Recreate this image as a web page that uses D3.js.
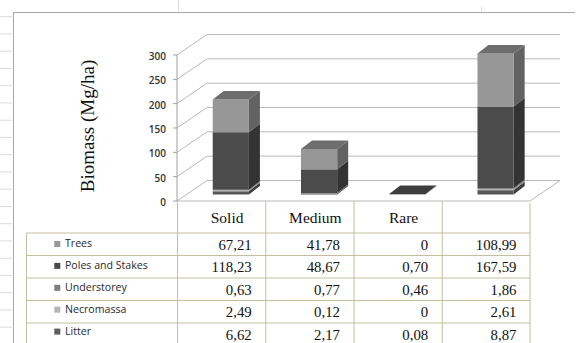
<!DOCTYPE html>
<html>
<head>
<meta charset="utf-8">
<script src="https://cdn.jsdelivr.net/npm/d3@7"></script>
<style>
  html, body { margin: 0; padding: 0; background: #fff; }
  svg { display: block; }
</style>
</head>
<body>
<svg id="chart" width="576" height="343"></svg>
<script>
// Biomass by stand density (Mg/ha)
const categories = ["Solid", "Medium", "Rare", ""];
const seriesNames = ["Trees", "Poles and Stakes", "Understorey", "Necromassa", "Litter"];
const trees       = [67.21, 41.78, 0, 108.99];
const poles       = [118.23, 48.67, 0.70, 167.59];
const understorey = [0.63, 0.77, 0.46, 1.86];
const necromassa  = [2.49, 0.12, 0, 2.61];
const litter      = [6.62, 2.17, 0.08, 8.87];
const yTicks      = [0, 50, 100, 150, 200, 250, 300];
const yTitle      = "Biomass (Mg/ha)";

const seriesValues = [trees, poles, understorey, necromassa, litter];

// shading per series: front face, side face, top face, legend swatch
const shades = {
  "Trees":            { front: "#979797", side: "#626262", top: "#6d6d6d", key: "#989898" },
  "Poles and Stakes": { front: "#4b4b4b", side: "#333333", top: "#3d3d3d", key: "#4a4a4a" },
  "Understorey":      { front: "#7d7d7d", side: "#585858", top: "#606060", key: "#7e7e7e" },
  "Necromassa":       { front: "#b4b4b4", side: "#8a8a8a", top: "#909090", key: "#b6b6b6" },
  "Litter":           { front: "#575757", side: "#3c3c3c", top: "#454545", key: "#5e5e5e" }
};

const svg = d3.select("#chart");

// rows for stacking, one per category
const rows = categories.map((c, i) => {
  const r = { cat: c };
  seriesNames.forEach((s, j) => { r[s] = seriesValues[j][i]; });
  return r;
});
// bottom-up stacking order
const stackKeys = ["Litter", "Necromassa", "Understorey", "Poles and Stakes", "Trees"];
const stacked = d3.stack().keys(stackKeys)(rows);

const x = d3.scaleBand().domain(categories).range([177, 530]);
const y = d3.scaleLinear().domain([0, 300]).range([201, 55]);

// oblique depth vectors
const wall = [30, -20.5];      // full floor depth
const barFront = [9.7, -6.5];  // front face of the columns
const barDepth = [11, -8.5];   // column thickness
const barW = x.bandwidth() * 0.41;

const tableLine = "#c6be9f";

// --- sheet frame and faint cell lines on the left
const faint = svg.append("g").attr("stroke", "#dcdcdc").attr("stroke-width", 1);
d3.range(0, 20).map(i => 16.7 + i * 17.25).filter(v => v < 343).forEach(v => {
  faint.append("line").attr("x1", 0).attr("x2", 12).attr("y1", v).attr("y2", v);
});
faint.append("line").attr("x1", 178.5).attr("x2", 178.5).attr("y1", 0).attr("y2", 11);
faint.append("line").attr("x1", 481.5).attr("x2", 481.5).attr("y1", 7).attr("y2", 11);

svg.append("path")
  .attr("d", "M13.5,343 V12.5 H575")
  .attr("fill", "none").attr("stroke", "#a8a8a8").attr("stroke-width", 1);

// --- walls and gridlines
const grid = svg.append("g").attr("fill", "none").attr("stroke", "#b9b9b9").attr("stroke-width", 1);
const x0 = x.range()[0], x1 = x.range()[1];
yTicks.forEach(t => {
  const yf = y(t);
  grid.append("path")
    .attr("d", `M${x0},${yf} L${x0 + wall[0]},${yf + wall[1]} H${x1 + wall[0]}`);
});
// floor outline (front edge and right edge)
grid.append("path")
  .attr("d", `M${x0},${y(0)} H${x1} L${x1 + wall[0]},${y(0) + wall[1]}`);
// value axis line and ticks
const axis = svg.append("g").attr("stroke", "#a0a0a0").attr("fill", "none");
axis.append("line").attr("x1", x0).attr("x2", x0).attr("y1", y(300)).attr("y2", y(0));
yTicks.forEach(t => {
  axis.append("line").attr("x1", x0 - 4).attr("x2", x0).attr("y1", y(t)).attr("y2", y(t));
});

// tick labels
svg.append("g").selectAll("text").data(yTicks).join("text")
  .attr("x", x0 - 11).attr("y", d => y(d) + 1.5)
  .attr("dy", "0.35em")
  .attr("text-anchor", "end")
  .attr("font-family", "'Open Sans', 'DejaVu Sans', sans-serif")
  .attr("font-size", 10).attr("font-weight", 600)
  .attr("fill", "#333")
  .text(d => d);

// axis title
svg.append("text")
  .attr("transform", `translate(94,126) rotate(-90)`)
  .attr("text-anchor", "middle")
  .attr("font-family", "'Liberation Serif', 'Times New Roman', serif")
  .attr("font-size", 19).attr("fill", "#111")
  .text(yTitle);

// --- 3D stacked columns
const bars = svg.append("g");
categories.forEach((c, ci) => {
  const bx0 = x(c) + (x.bandwidth() - barW) / 2 + barFront[0];
  const bx1 = bx0 + barW;
  let topLayer = null, topY = null;
  stacked.forEach(layer => {
    const seg = layer[ci];
    if (seg[1] - seg[0] <= 0) return;
    const sh = shades[layer.key];
    const yb = y(seg[0]) + barFront[1];
    const yt = y(seg[1]) + barFront[1];
    bars.append("path")
      .attr("d", `M${bx1},${yb} L${bx1 + barDepth[0]},${yb + barDepth[1]} L${bx1 + barDepth[0]},${yt + barDepth[1]} L${bx1},${yt} Z`)
      .attr("fill", sh.side);
    bars.append("rect")
      .attr("x", bx0).attr("y", yt).attr("width", barW).attr("height", yb - yt)
      .attr("fill", sh.front);
    topLayer = layer.key; topY = yt;
  });
  if (topLayer) {
    bars.append("path")
      .attr("d", `M${bx0},${topY} L${bx1},${topY} L${bx1 + barDepth[0]},${topY + barDepth[1]} L${bx0 + barDepth[0]},${topY + barDepth[1]} Z`)
      .attr("fill", shades[topLayer].top);
  }
});

// --- data table
const tableTop = y(0);
const headBottom = 233;
const rowH = 22.5;
const tableBottom = 343;
const legendLeft = 26.5;
const table = svg.append("g").attr("stroke", tableLine).attr("stroke-width", 1).attr("fill", "none");
categories.forEach(c => {
  table.append("line").attr("x1", x(c) + 0.5).attr("x2", x(c) + 0.5).attr("y1", tableTop).attr("y2", tableBottom);
});
table.append("line").attr("x1", x1).attr("x2", x1).attr("y1", tableTop + 2).attr("y2", tableBottom);
table.append("line").attr("x1", legendLeft).attr("x2", legendLeft).attr("y1", headBottom).attr("y2", tableBottom);
seriesNames.forEach((s, i) => {
  const ry = headBottom + i * rowH;
  table.append("line").attr("x1", legendLeft).attr("x2", x1).attr("y1", ry).attr("y2", ry);
});

// column headers
svg.append("g").selectAll("text").data(categories).join("text")
  .attr("x", d => x(d) + x.bandwidth() / 2 + 6)
  .attr("y", 223)
  .attr("text-anchor", "middle")
  .attr("font-family", "'Liberation Serif', 'Times New Roman', serif")
  .attr("font-size", 15.5).attr("fill", "#111")
  .text(d => d);

// values
const fmt = v => v === 0 ? "0" : v.toFixed(2).replace(".", ",");
const cells = svg.append("g")
  .attr("font-family", "'Liberation Serif', 'Times New Roman', serif")
  .attr("font-size", 14.8).attr("fill", "#111").attr("text-anchor", "end");
seriesValues.forEach((vals, si) => {
  vals.forEach((v, ci) => {
    cells.append("text")
      .attr("x", x(categories[ci]) + x.bandwidth() - 13.5)
      .attr("y", headBottom + si * rowH + 16.5)
      .text(fmt(v));
  });
});

// legend keys in the first column
const legend = svg.append("g");
seriesNames.forEach((s, i) => {
  const by = 247.3 + i * 21.9;
  legend.append("rect")
    .attr("x", 54.3).attr("y", by - 6.3).attr("width", 6).attr("height", 6)
    .attr("fill", shades[s].key);
  legend.append("text")
    .attr("x", 65).attr("y", by)
    .attr("font-family", "'Open Sans', 'DejaVu Sans', sans-serif")
    .attr("font-size", 10.6).attr("font-weight", 500).attr("fill", "#2a2a2a")
    .text(s);
});
</script>
</body>
</html>
